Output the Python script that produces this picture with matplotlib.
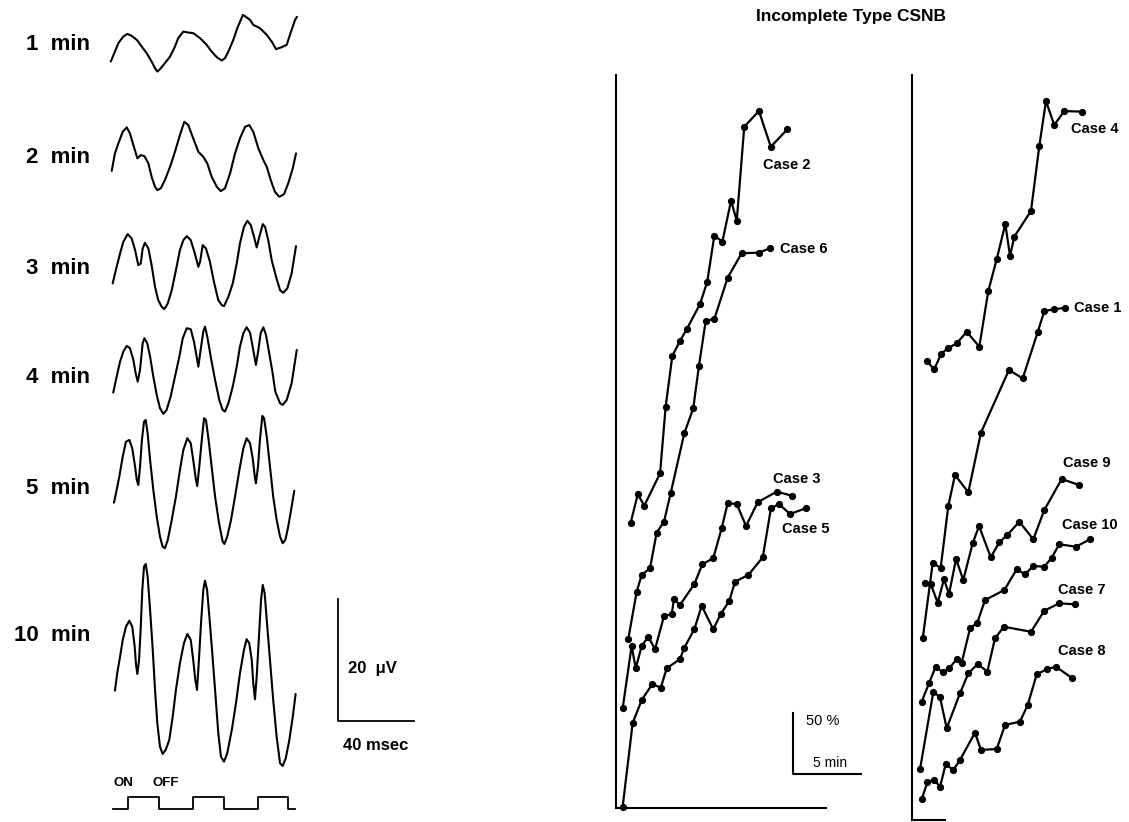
import numpy as np
import matplotlib
matplotlib.use("Agg")
import matplotlib.pyplot as plt
from matplotlib import font_manager as fm

# ---------------- data: flicker ERG traces (time in ms, amplitude in µV) ----------------
row_labels = ["1  min", "2  min", "3  min", "4  min", "5  min", "10  min"]
row_offsets = [127.4, 109.0, 90.8, 72.8, 54.6, 30.5]   # vertical position of each trace (µV units)

trace1_t = [0.4, 2.6, 4.4, 7.0, 9.1, 11.4, 14.1, 16.7, 19.3, 21.9, 23.7, 24.9, 26.3, 28.9, 31.6, 34.2, 35.9,
            38.6, 41.2, 43.8, 47.4, 50.9, 53.5, 56.2, 58.8, 60.5, 62.3, 64.9, 67.0, 70.0, 73.7, 75.4, 78.9,
            82.5, 85.1, 87.4, 90.4, 93.0, 94.7, 97.4, 98.4]
trace1_v = [-2.74, -1.10, 0.28, 1.36, 1.80, 1.48, 0.82, -0.28, -1.36, -2.74, -3.82, -4.38, -3.98, -3.00, -1.92,
            -0.28, 1.10, 2.18, 2.02, 1.92, 1.10, 0.00, -1.10, -2.02, -2.57, -2.18, -1.10, 0.82, 2.74, 4.92,
            4.10, 3.28, 2.74, 1.64, 0.54, -0.70, -0.38, 0.00, 1.64, 4.10, 4.59]

trace2_t = [0.9, 2.6, 4.4, 6.7, 8.8, 10.5, 12.3, 14.4, 16.2, 18.1, 20.2, 21.9, 23.7, 24.9, 26.7, 28.9, 31.6,
            34.2, 36.8, 39.1, 41.2, 43.8, 46.5, 49.1, 51.2, 53.5, 56.2, 58.3, 60.5, 63.2, 65.8, 68.4, 71.1,
            73.3, 75.4, 78.1, 80.7, 82.5, 84.6, 86.8, 89.1, 91.6, 93.8, 96.2, 97.9]
trace2_v = [-2.25, 0.61, 2.25, 4.15, 4.87, 3.89, 1.97, -0.21, 0.33, 0.16, -1.03, -3.23, -4.87, -5.41, -5.13,
            -3.77, -1.59, 0.87, 3.61, 5.79, 5.25, 3.07, 0.87, 0.05, -1.03, -3.23, -4.87, -5.57, -5.13, -2.67,
            0.61, 3.07, 4.97, 5.25, 4.15, 1.43, -0.49, -1.59, -3.77, -5.69, -6.51, -6.07, -4.31, -1.85, 0.61]

trace3_t = [1.4, 3.5, 5.3, 7.0, 9.3, 11.4, 13.2, 14.9, 16.2, 17.2, 18.4, 20.2, 21.9, 23.7, 25.4, 27.2, 28.6,
            30.4, 32.5, 34.7, 36.8, 38.6, 40.4, 42.5, 44.4, 46.5, 47.4, 48.8, 50.5, 52.6, 54.7, 57.0, 58.8,
            60.0, 62.3, 64.6, 66.7, 68.4, 70.5, 72.3, 74.1, 75.8, 77.2, 78.6, 80.4, 81.6, 83.3, 85.1, 87.4,
            89.5, 91.2, 93.3, 95.6, 97.9]
trace3_v = [-2.51, 0.21, 2.41, 4.31, 5.57, 4.87, 2.95, 0.49, 0.77, 3.23, 4.15, 3.23, 0.49, -3.07, -5.25,
            -6.34, -6.72, -5.79, -3.61, -0.33, 2.95, 4.59, 5.25, 4.59, 2.67, 0.21, 1.03, 3.77, 3.23, 1.03,
            -2.25, -5.25, -6.07, -6.23, -4.70, -2.51, 0.77, 4.05, 6.77, 7.75, 7.05, 5.13, 3.39, 5.13, 7.21,
            6.77, 4.59, 1.31, -1.43, -3.61, -4.05, -3.33, -0.87, 3.61]

trace4_t = [1.7, 3.5, 5.3, 7.0, 8.8, 10.5, 12.3, 13.5, 14.6, 15.8, 17.2, 18.1, 19.6, 21.1, 22.8, 24.6, 26.3,
            28.1, 29.8, 31.9, 34.2, 36.5, 38.3, 40.4, 42.5, 44.2, 45.6, 46.5, 47.7, 49.1, 50.0, 51.2, 53.0,
            55.3, 57.5, 59.3, 60.5, 62.3, 64.6, 66.7, 68.4, 70.2, 71.9, 73.7, 75.4, 76.8, 78.1, 79.3, 80.7,
            82.1, 83.8, 85.6, 87.0, 89.5, 90.9, 93.0, 95.6, 98.3]
trace4_v = [-2.41, 0.21, 2.67, 4.31, 5.25, 4.87, 2.95, 0.77, -0.61, 1.31, 5.69, 6.51, 5.69, 3.49, 0.21,
            -2.79, -4.97, -5.90, -5.25, -3.07, 0.21, 3.49, 6.51, 8.15, 7.98, 5.95, 3.49, 1.85, 4.59, 7.59,
            8.41, 6.77, 3.49, -0.33, -3.61, -5.25, -5.52, -4.15, -1.43, 1.85, 5.13, 7.33, 8.31, 7.43, 4.59,
            2.13, 4.59, 7.33, 8.31, 7.05, 4.05, 0.77, -2.25, -4.15, -4.43, -3.61, -0.87, 4.59]

trace5_t = [2.1, 3.5, 4.9, 6.7, 8.4, 10.2, 11.7, 13.2, 14.1, 14.9, 15.8, 16.8, 17.9, 18.8, 19.8, 21.1, 22.8,
            24.6, 26.3, 27.7, 28.9, 30.4, 32.5, 34.7, 36.8, 38.6, 40.7, 42.5, 43.8, 45.1, 45.9, 47.0, 48.3,
            49.5, 50.5, 51.9, 53.5, 55.3, 57.4, 59.3, 60.2, 61.7, 63.7, 65.8, 68.1, 70.2, 71.9, 73.7, 75.1,
            76.2, 76.8, 77.9, 78.9, 80.2, 81.1, 82.5, 84.2, 85.9, 87.7, 89.5, 90.9, 92.3, 93.8, 95.6, 97.0]
trace5_v = [-2.25, -0.16, 2.02, 5.30, 7.75, 8.03, 6.67, 3.66, 1.48, 0.66, 3.66, 8.03, 11.03, 11.31, 9.13,
            4.75, -0.16, -4.54, -7.82, -9.46, -9.72, -8.36, -5.08, -1.26, 3.11, 6.39, 8.31, 7.49, 4.75, 1.75,
            0.49, 3.66, 8.03, 11.59, 11.31, 8.03, 3.66, -1.26, -5.62, -8.64, -9.02, -7.82, -5.08, -1.26, 3.11,
            6.67, 8.31, 7.49, 5.03, 2.02, 0.93, 3.66, 8.03, 11.97, 11.59, 8.57, 3.66, -1.26, -5.08, -7.82,
            -8.90, -8.36, -6.18, -2.90, -0.28]

trace6_t = [2.6, 3.8, 5.3, 6.7, 8.4, 10.2, 11.7, 13.0, 13.7, 14.4, 15.3, 16.2, 17.0, 17.9, 18.8, 19.8, 21.1,
            22.5, 23.7, 24.9, 26.3, 27.7, 29.3, 31.2, 33.0, 34.7, 36.8, 38.9, 40.7, 42.5, 43.8, 44.9, 45.8,
            46.8, 47.9, 49.1, 50.0, 51.1, 52.3, 53.7, 55.3, 57.0, 58.4, 60.0, 61.7, 64.1, 66.3, 68.4, 70.5,
            71.9, 73.3, 74.6, 75.4, 76.3, 77.2, 78.4, 79.5, 80.4, 81.4, 82.5, 84.2, 85.9, 87.7, 89.5, 90.9,
            92.5, 94.4, 96.2, 97.7]
trace6_v = [-8.97, -6.11, -3.39, -0.66, 1.52, 2.51, 1.52, -1.75, -4.75, -6.23, -3.93, 1.52, 7.54, 11.36,
            11.80, 9.72, 4.26, -2.30, -8.85, -14.31, -18.15, -19.34, -18.69, -17.05, -13.23, -8.85, -4.48,
            -1.20, 0.33, -0.66, -3.93, -7.21, -8.85, -3.93, 2.08, 7.54, 9.07, 7.54, 3.16, -2.30, -8.85,
            -15.95, -19.79, -20.61, -19.23, -15.41, -11.03, -6.11, -2.30, -0.54, -1.20, -3.93, -7.75, -10.38,
            -6.67, -0.11, 5.90, 8.36, 7.00, 2.62, -3.93, -10.49, -16.51, -20.87, -21.31, -20.05, -17.05,
            -13.23, -9.51]

# stimulus marker (30 Hz flicker): ON / OFF times in ms
stim_start, stim_end = 1.7, 97.4
stim_on = [9.6, 43.5, 77.7]
stim_off = [25.9, 60.0, 93.8]

# ---------------- data: incomplete type CSNB, time in min, amplitude in % ----------------
case2_t = [1.08, 1.60, 2.08, 3.24, 3.65, 4.14, 4.71, 5.20, 6.18, 6.71, 7.23, 7.82, 8.46, 8.88, 9.43, 10.51, 11.38, 12.60]
case2_v = [233.9, 257.1, 247.8, 274.3, 328.9, 370.5, 383.0, 392.4, 413.1, 431.4, 469.1, 464.2, 497.8, 481.4, 558.4, 571.3, 542.0, 556.3]
case6_t = [0.90, 1.52, 1.89, 2.50, 2.99, 3.53, 4.02, 5.02, 5.68, 6.10, 6.60, 7.23, 8.21, 9.24, 10.51, 11.32]
case6_v = [138.3, 177.3, 191.0, 196.5, 225.7, 234.7, 258.0, 307.1, 327.6, 362.5, 399.4, 400.8, 434.7, 454.7, 455.2, 458.8]
case3_t = [0.49, 1.15, 1.45, 1.89, 2.38, 2.87, 3.53, 4.10, 4.26, 4.71, 5.76, 6.35, 7.15, 7.77, 8.21, 8.88, 9.56, 10.42, 11.82, 12.92]
case3_v = [81.7, 132.8, 114.5, 132.8, 140.4, 130.1, 157.4, 159.0, 171.1, 166.4, 183.6, 199.8, 204.7, 229.3, 249.8, 249.2, 231.1, 250.6, 259.3, 256.0]
case5_t = [0.49, 1.23, 1.89, 2.67, 3.29, 3.73, 4.71, 5.00, 5.76, 6.30, 7.15, 7.70, 8.33, 8.75, 9.73, 10.79, 11.40, 12.01, 12.79, 13.97]
case5_v = [1.1, 69.9, 88.5, 101.6, 98.6, 114.5, 122.1, 130.9, 146.5, 165.8, 146.5, 159.0, 169.7, 185.5, 191.0, 205.5, 246.1, 248.9, 241.0, 245.7]

case4_t = [1.08, 1.64, 2.13, 2.63, 3.29, 4.02, 4.95, 5.61, 6.23, 6.86, 7.21, 7.52, 8.75, 9.36, 9.85, 10.46, 11.20, 12.48]
case4_v = [376.2, 369.4, 382.0, 386.6, 390.7, 400.2, 388.0, 433.6, 459.8, 488.5, 462.3, 478.1, 499.2, 552.5, 589.3, 569.7, 581.1, 580.6]
case1_t = [0.79, 1.52, 2.11, 2.67, 3.16, 4.14, 5.07, 7.13, 8.14, 9.24, 9.73, 10.46, 11.25]
case1_v = [148.9, 210.4, 206.8, 257.4, 282.8, 268.6, 317.5, 368.9, 362.0, 399.8, 417.2, 418.6, 419.9]
case9_t = [0.96, 1.38, 1.89, 2.35, 2.72, 3.24, 3.77, 4.46, 4.93, 5.79, 6.42, 7.01, 7.89, 8.92, 9.73, 11.01, 12.28]
case9_v = [194.0, 193.4, 178.1, 197.3, 185.2, 213.9, 196.7, 226.8, 241.0, 215.3, 227.6, 233.6, 244.5, 230.1, 254.1, 279.5, 274.6]
case10_t = [0.71, 1.25, 1.74, 2.26, 2.74, 3.29, 3.65, 4.27, 4.80, 5.37, 6.79, 7.70, 8.31, 8.92, 9.73, 10.27, 10.83, 12.06, 13.09]
case10_v = [97.0, 112.0, 125.7, 121.1, 124.3, 132.0, 128.9, 157.1, 161.7, 180.3, 188.5, 205.5, 201.4, 208.2, 207.6, 215.0, 226.0, 224.0, 230.1]
case7_t = [0.59, 1.57, 2.06, 2.55, 3.53, 4.14, 4.83, 5.54, 6.10, 6.76, 8.75, 9.73, 10.83, 11.99]
case7_v = [41.6, 105.2, 100.6, 75.2, 103.9, 120.2, 127.9, 121.6, 148.9, 158.4, 154.3, 171.6, 177.6, 176.8]
case8_t = [0.71, 1.13, 1.64, 2.06, 2.48, 3.04, 3.53, 4.63, 5.07, 6.23, 6.84, 7.94, 8.51, 9.17, 9.90, 10.57, 11.74]
case8_v = [17.0, 30.9, 32.8, 27.3, 45.7, 41.0, 49.2, 71.6, 57.4, 58.2, 77.9, 80.6, 94.3, 119.4, 123.5, 125.7, 116.6]

panelA_names = ["Case 2", "Case 6", "Case 3", "Case 5"]
panelA_label_pos = [(10.81, 527.0), (12.06, 458.0), (11.52, 269.7), (12.18, 228.4)]
panelB_names = ["Case 4", "Case 1", "Case 9", "Case 10", "Case 7", "Case 8"]
panelB_label_pos = [(11.67, 566.1), (11.93, 419.4), (11.08, 292.4), (11.01, 241.8), (10.76, 188.5), (10.76, 138.8)]

title = "Incomplete Type CSNB"

# ---------------- layout ----------------
names = {f.name for f in fm.fontManager.ttflist}
FONT = "Liberation Sans" if "Liberation Sans" in names else "DejaVu Sans"
plt.rcParams["font.family"] = [FONT, "DejaVu Sans"]

W, H = 1129, 822
fig = plt.figure(figsize=(W / 100, H / 100), dpi=100)
fig.patch.set_facecolor("white")


def add_ax(x0, y_top, x1, y_bottom):
    return fig.add_axes([x0 / W, 1 - y_bottom / H, (x1 - x0) / W, (y_bottom - y_top) / H])


PX_PER_MS, PX_PER_UV, T0_PX = 1.9, 6.1, 110
axL = add_ax(0, 0, 440, H)
axL.set_xlim(-T0_PX / PX_PER_MS, (440 - T0_PX) / PX_PER_MS)
axL.set_ylim(0, H / PX_PER_UV)
axL.axis("off")

traces_t = [trace1_t, trace2_t, trace3_t, trace4_t, trace5_t, trace6_t]
traces_v = [trace1_v, trace2_v, trace3_v, trace4_v, trace5_v, trace6_v]
for lab, off, t, v in zip(row_labels, row_offsets, traces_t, traces_v):
    axL.plot(t, np.array(v) + off, color="black", lw=1.5, solid_joinstyle="round", solid_capstyle="round")
    axL.text(-10.5, off, lab, ha="right", va="center", fontsize=16, fontweight="bold")

# stimulus square wave
stim_low, stim_high = 2.1, 4.1
sx, sy = [stim_start], [stim_low]
for on, off in zip(stim_on, stim_off):
    sx += [on, on, off, off]
    sy += [stim_low, stim_high, stim_high, stim_low]
sx.append(stim_end)
sy.append(stim_low)
axL.plot(sx, sy, color="black", lw=1.3)
axL.text(2.1, 6.4, "ON", ha="left", va="center", fontsize=9.5, fontweight="bold")
axL.text(22.6, 6.4, "OFF", ha="left", va="center", fontsize=9.5, fontweight="bold")

# scale bar 20 µV / 40 ms
sb_x, sb_y = 120.0, 16.6
axL.plot([sb_x, sb_x, sb_x + 40], [sb_y + 20, sb_y, sb_y], color="black", lw=1.3)
axL.text(125.3, 25.2, "20  μV", ha="left", va="center", fontsize=12, fontweight="bold")
axL.text(122.6, 12.6, "40 msec", ha="left", va="center", fontsize=12, fontweight="bold")

# right panels
PX_PER_MIN, PX_PER_PCT = 13.6, 1.22


def setup_panel(ax, wpx, hpx, bottom_len_px=None):
    ax.set_xlim(0, wpx / PX_PER_MIN)
    ax.set_ylim(0, hpx / PX_PER_PCT)
    ax.set_facecolor("none")
    for s in ["top", "right"]:
        ax.spines[s].set_visible(False)
    for s in ["left", "bottom"]:
        ax.spines[s].set_linewidth(1.5)
    if bottom_len_px is not None:
        ax.spines["bottom"].set_bounds(0, bottom_len_px / PX_PER_MIN)
    ax.set_xticks([])
    ax.set_yticks([])


axA = add_ax(616, 75, 826, 808)
setup_panel(axA, 210, 733)
axB = add_ax(912, 75, 1129, 820)
setup_panel(axB, 217, 745, bottom_len_px=33)

style = dict(color="black", lw=1.6, marker="o", ms=4.2, clip_on=False, solid_joinstyle="miter")
for t, v in [(case2_t, case2_v), (case6_t, case6_v), (case3_t, case3_v), (case5_t, case5_v)]:
    axA.plot(t, v, **style)
for t, v in [(case4_t, case4_v), (case1_t, case1_v), (case9_t, case9_v),
             (case10_t, case10_v), (case7_t, case7_v), (case8_t, case8_v)]:
    axB.plot(t, v, **style)

for name, (x, y) in zip(panelA_names, panelA_label_pos):
    axA.text(x, y, name, ha="left", va="center", fontsize=10.5, fontweight="bold", clip_on=False)
for name, (x, y) in zip(panelB_names, panelB_label_pos):
    axB.text(x, y, name, ha="left", va="center", fontsize=10.5, fontweight="bold", clip_on=False)

# scale bar 50 % / 5 min
sb2_x, sb2_y = 13.01, 27.9
axA.plot([sb2_x, sb2_x, sb2_x + 5], [sb2_y + 50, sb2_y, sb2_y], color="black", lw=1.5, clip_on=False)
axA.text(13.97, 71.6, "50 %", ha="left", va="center", fontsize=10.5, clip_on=False)
axA.text(14.49, 36.6, "5 min", ha="left", va="center", fontsize=10, clip_on=False)

fig.text(851 / W, 1 - 17 / H, title, ha="center", va="center", fontsize=12.5, fontweight="bold")

fig.savefig("out.png", dpi=100, facecolor="white")
